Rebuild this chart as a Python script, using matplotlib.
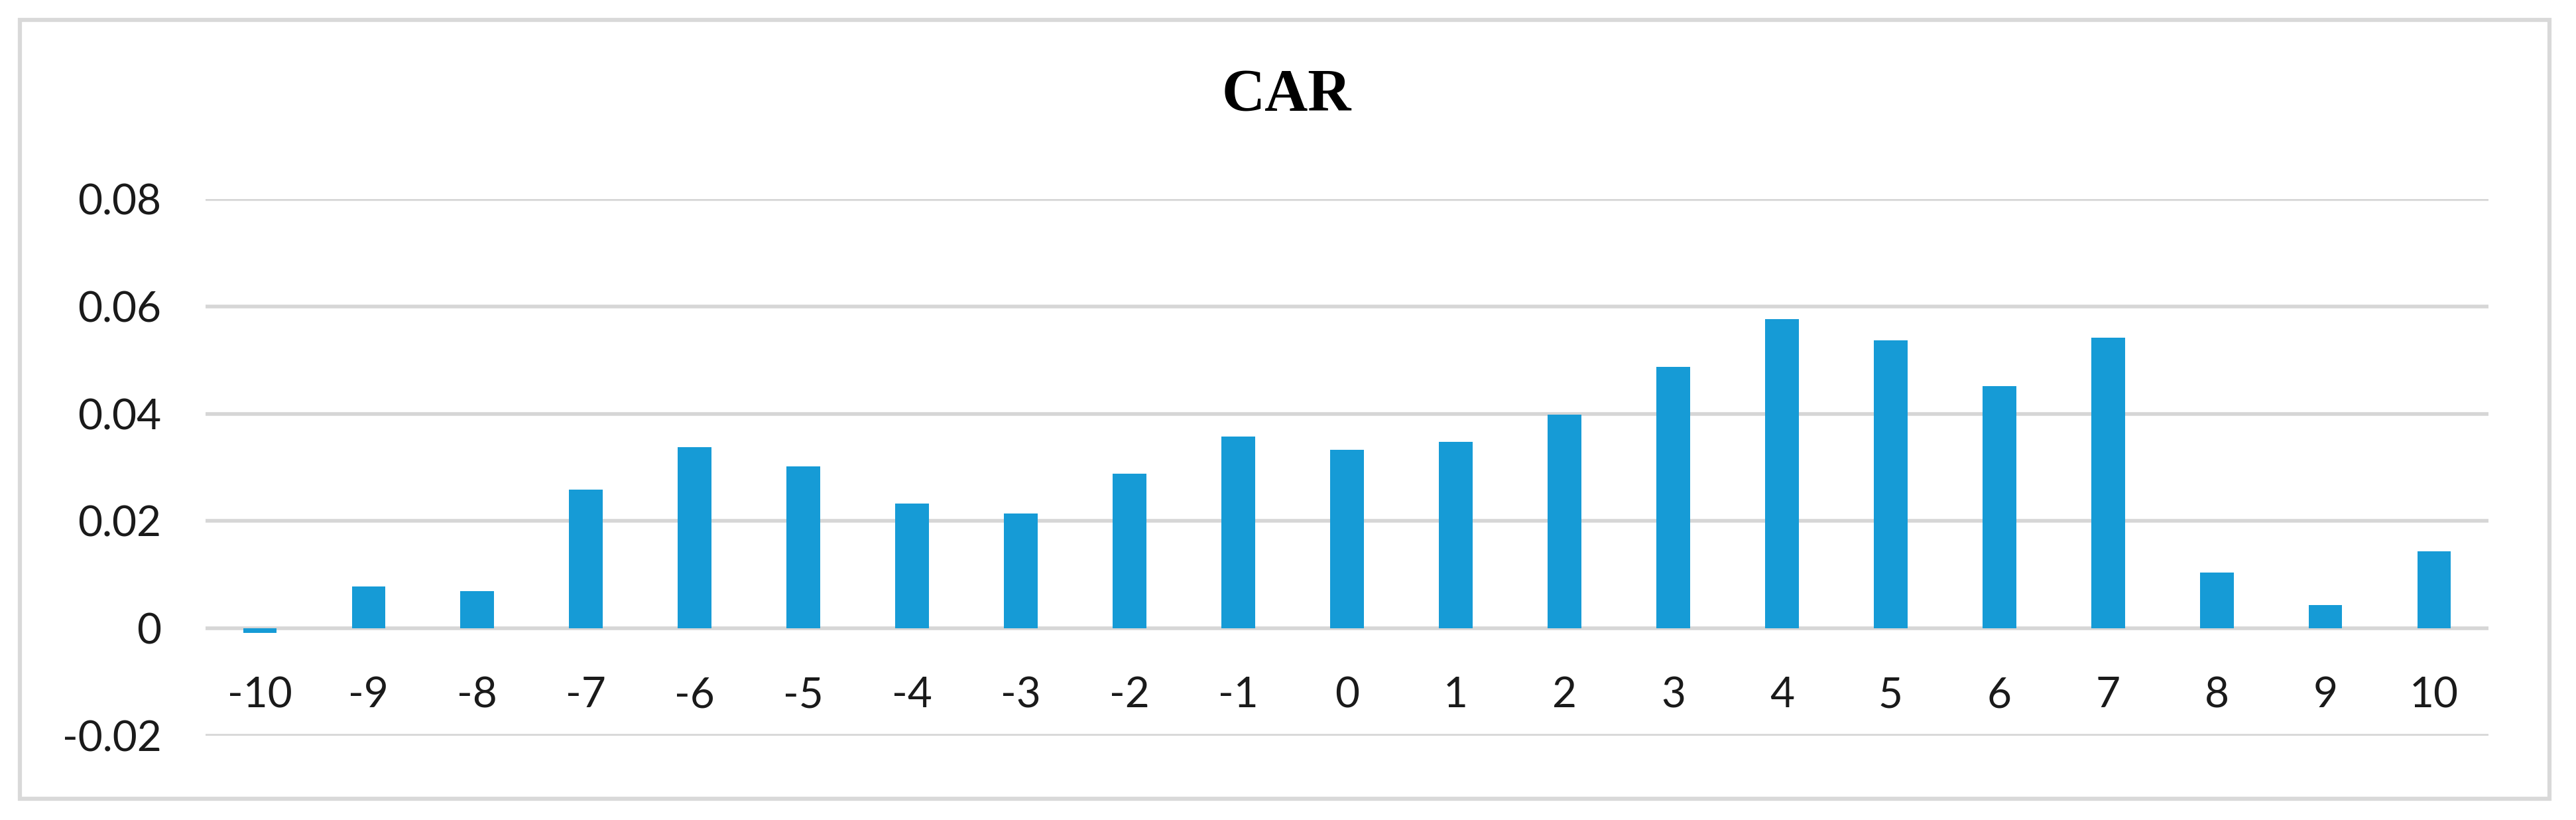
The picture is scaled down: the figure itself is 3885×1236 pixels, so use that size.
import matplotlib.pyplot as plt
from matplotlib.patches import Rectangle

# Datos del gráfico CAR
dias = [-10, -9, -8, -7, -6, -5, -4, -3, -2, -1, 0, 1, 2, 3, 4, 5, 6, 7, 8, 9, 10]
car = [-0.0009, 0.0078, 0.0069, 0.0258, 0.0338, 0.0302, 0.0233, 0.0214, 0.0288, 0.0357,
       0.0333, 0.0348, 0.0398, 0.0487, 0.0576, 0.0537, 0.0452, 0.0542, 0.0104, 0.0044, 0.0144]
y_ticks = [-0.02, 0, 0.02, 0.04, 0.06, 0.08]
y_labels = ['-0.02', '0', '0.02', '0.04', '0.06', '0.08']

W, H = 3885, 1236
fig = plt.figure(figsize=(W / 100, H / 100), dpi=100)
ax = fig.add_axes([310 / W, 1 - 1109 / H, (3753 - 310) / W, (1109 - 300) / H])

pos = list(range(len(dias)))
ax.bar(pos, car, width=0.31, color='#169bd6', zorder=3)

ax.set_xlim(-0.5, len(dias) - 0.5)
ax.set_ylim(-0.02, 0.08)
ax.set_yticks(y_ticks)
ax.set_yticklabels(y_labels)
ax.set_xticks(pos)
ax.set_xticklabels([str(d) for d in dias])

ax.yaxis.grid(True, color='#d6d6d6', linewidth=4.0, zorder=0)
for s in ax.spines.values():
    s.set_visible(False)
ax.spines['bottom'].set_position(('data', 0))

ax.tick_params(axis='y', length=0, pad=48, labelsize=46)
ax.tick_params(axis='x', length=0, pad=52, labelsize=46)
for lbl in ax.get_xticklabels() + ax.get_yticklabels():
    lbl.set_fontfamily('Lato')
    lbl.set_color('#1a1a1a')

fig.text(1940 / W, 1 - 145 / H, 'CAR', ha='center', va='center',
         fontsize=65, fontweight='bold', family='Liberation Serif')

# marco exterior del gráfico
fig.patches.append(Rectangle((30 / W, 1 - 1204 / H), (3845 - 30) / W, (1204 - 30) / H,
                             transform=fig.transFigure, fill=False,
                             edgecolor='#d9d9d9', linewidth=4.5))

fig.savefig('out.png', dpi=100, facecolor='white')
